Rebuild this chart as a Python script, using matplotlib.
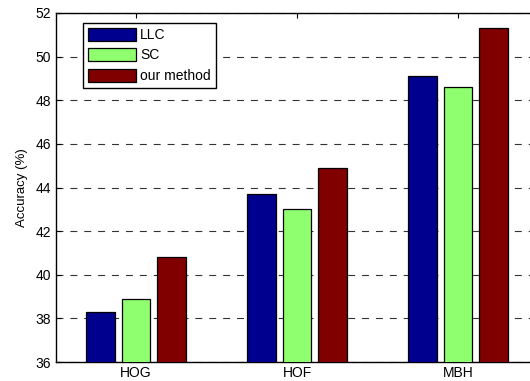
import numpy as np
import matplotlib
matplotlib.use('Agg')
import matplotlib.pyplot as plt
from matplotlib.patches import Rectangle
from matplotlib.legend_handler import HandlerPatch

plt.rcParams['font.family'] = ['Liberation Sans', 'DejaVu Sans']
plt.rcParams['lines.scale_dashes'] = False

features = ['HOG', 'HOF', 'MBH']
methods = ['LLC', 'SC', 'our method']
llc = [38.3, 43.7, 49.1]
sc = [38.9, 43.0, 48.6]
ours = [40.8, 44.9, 51.3]
colors = ['#00008f', '#8fff70', '#800000']

fig = plt.figure(figsize=(5.3, 3.81), dpi=100)
# axes runs slightly past the right edge of the figure, as in the original
ax = fig.add_axes([55.5 / 530, (381 - 362) / 381, 483 / 530, 349 / 381])

x = np.arange(1, len(features) + 1)
step = 0.219
width = 0.177
for i, (vals, name) in enumerate(zip([llc, sc, ours], methods)):
    ax.bar(x + (i - 1) * step, vals, width, color=colors[i], edgecolor='black',
           linewidth=0.9, label=name, zorder=3)

ax.set_xlim(0.5, 3.5)
ax.set_ylim(36, 52)
ax.set_xticks(x)
ax.set_xticklabels(features)
ax.set_yticks(np.arange(36, 53, 2))
ax.tick_params(direction='in', length=3.5, width=0.8, top=True, right=True,
               labelsize=10, pad=3)
for s in ax.spines.values():
    s.set_linewidth(1.0)
ax.yaxis.grid(True, color='0.2', linewidth=0.8, linestyle=(0, (5, 5)), zorder=0)
ax.set_axisbelow(True)
ax.set_ylabel('Accuracy (%)', fontsize=9.5, labelpad=5.5)


def shifted_patch(legend, orig_handle, xdescent, ydescent, w, h, fontsize):
    off = 2.5  # a little extra space on the left of the legend swatches
    return Rectangle((-xdescent + off, -ydescent), w - off, h)


leg = ax.legend(loc='upper left', bbox_to_anchor=(27.5 / 483, (362 - 22.5) / 349),
                borderaxespad=0, fancybox=False, framealpha=1, edgecolor='black',
                fontsize=10, handlelength=3.45, handleheight=1.05,
                labelspacing=0.45, handletextpad=0.3, borderpad=0.38,
                handler_map={Rectangle: HandlerPatch(patch_func=shifted_patch)})
leg.get_frame().set_linewidth(1.0)

fig.savefig('out.png', dpi=100)
